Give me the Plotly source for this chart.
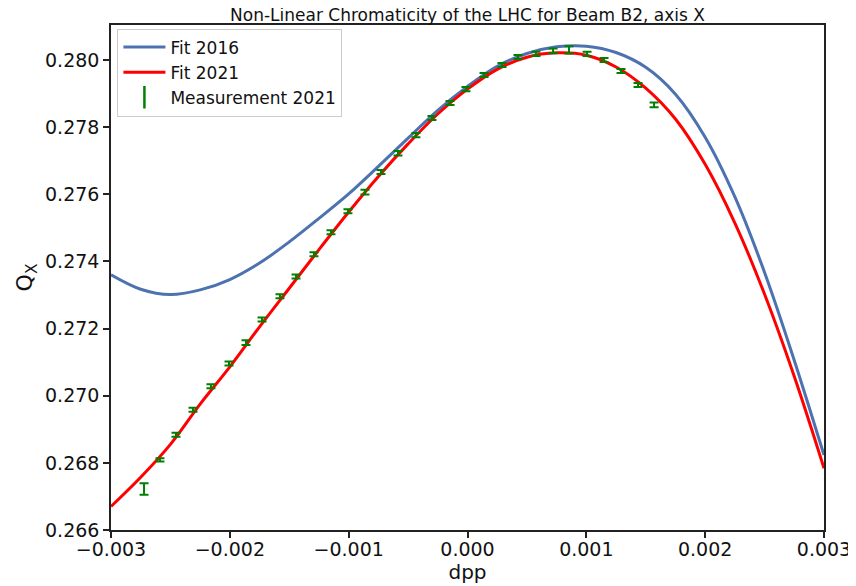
import plotly.graph_objects as go

# --- data ---
dpp_grid = [-0.003, -0.00275, -0.0025, -0.00225, -0.002, -0.00175, -0.0015, -0.00125,
            -0.001, -0.00075, -0.0005, -0.00025, 0.0, 0.00025, 0.0005, 0.00075,
            0.001, 0.00125, 0.0015, 0.00175, 0.002, 0.00225, 0.0025, 0.00275, 0.003]

fit_2016 = [0.27360, 0.27317, 0.27301, 0.27315, 0.27346, 0.27395, 0.27458, 0.27528,
            0.27601, 0.27683, 0.27767, 0.27850, 0.27921, 0.27981, 0.28019, 0.28039,
            0.28041, 0.28022, 0.27978, 0.27898, 0.27770, 0.27592, 0.27367, 0.27105, 0.26823]

fit_2021 = [0.26670, 0.26757, 0.26855, 0.26975, 0.27086, 0.27205, 0.27320, 0.27435,
            0.27547, 0.27653, 0.27750, 0.27839, 0.27913, 0.27972, 0.28008, 0.28021,
            0.28014, 0.27979, 0.27916, 0.27824, 0.27689, 0.27514, 0.27302, 0.27057, 0.26784]

meas_dpp = [-0.002722, -0.002588, -0.002453, -0.002310, -0.002159, -0.002007, -0.001864,
            -0.001729, -0.001578, -0.001443, -0.001292, -0.001149, -0.001006, -0.000863,
            -0.000728, -0.000585, -0.000434, -0.000299, -0.000147, -0.000013, 0.000139,
            0.000290, 0.000425, 0.000576, 0.000720, 0.000854, 0.001006, 0.001149,
            0.001292, 0.001435, 0.001570]

meas_q = [0.26722, 0.26809, 0.26884, 0.26958, 0.27028, 0.27096, 0.27158, 0.27227,
          0.27296, 0.27355, 0.27421, 0.27487, 0.27549, 0.27606, 0.27666, 0.27722,
          0.27776, 0.27827, 0.27872, 0.27913, 0.27955, 0.27985, 0.28009, 0.28018,
          0.28027, 0.28030, 0.28018, 0.28000, 0.27967, 0.27925, 0.27866]

meas_err = [0.00017, 0.00005, 0.00006, 0.00006, 0.00006, 0.00006, 0.00007, 0.00006,
            0.00006, 0.00006, 0.00006, 0.00006, 0.00006, 0.00007, 0.00006, 0.00007,
            0.00006, 0.00006, 0.00006, 0.00006, 0.00006, 0.00006, 0.00006, 0.00006,
            0.00007, 0.00011, 0.00006, 0.00006, 0.00006, 0.00006, 0.00007]

x_ticks = [-0.003, -0.002, -0.001, 0.0, 0.001, 0.002, 0.003]
y_ticks = [0.266, 0.268, 0.270, 0.272, 0.274, 0.276, 0.278, 0.280]

FONT = "DejaVu Sans"
GREEN = "#008000"

fig = go.Figure()

fig.add_trace(go.Scatter(
    x=dpp_grid, y=fit_2016, mode="lines", name="Fit 2016",
    line=dict(color="#4c72b0", width=3, shape="spline", smoothing=1.0),
))
fig.add_trace(go.Scatter(
    x=dpp_grid, y=fit_2021, mode="lines", name="Fit 2021",
    line=dict(color="#ff0000", width=3, shape="spline", smoothing=1.0),
))
fig.add_trace(go.Scatter(
    x=meas_dpp, y=meas_q, mode="markers", name="Measurement 2021",
    marker=dict(size=1, color=GREEN, opacity=0),
    error_y=dict(type="data", array=meas_err, visible=True, color=GREEN,
                 thickness=2, width=4.5),
    showlegend=False,
))
# legend-only entry for the measurements
fig.add_trace(go.Scatter(
    x=[None], y=[None], mode="markers", name="Measurement 2021",
    marker=dict(symbol="line-ns-open", size=17, color=GREEN,
                line=dict(color=GREEN, width=2.5)),
))

axis_common = dict(
    showline=True, linecolor="#222222", linewidth=1.5, mirror=True,
    ticks="outside", ticklen=6, tickwidth=1.5, tickcolor="#222222",
    showgrid=False, zeroline=False, automargin=False,
    tickfont=dict(family=FONT, size=19, color="#111111"),
    tickformat=".3f",
)

# the page body adds an 8px offset, so the figure is 8px smaller
W, H = 848, 578
fig.update_layout(
    width=W, height=H,
    margin=dict(l=103, r=32, t=17, b=56, autoexpand=False),
    paper_bgcolor="white", plot_bgcolor="white",
    font=dict(family=FONT, color="#111111"),
    title=dict(text="Non-Linear Chromaticity of the LHC for Beam B2, axis X",
               font=dict(family=FONT, size=17, color="#111111"),
               x=0.5, xref="paper", xanchor="center",
               y=1 - 7.5 / H, yref="container", yanchor="middle"),
    xaxis=dict(range=[-0.003, 0.003], tickvals=x_ticks, ticklabelstandoff=-5,
               title=dict(text="dpp", font=dict(family=FONT, size=20), standoff=2),
               **axis_common),
    yaxis=dict(range=[0.266, 0.28104], tickvals=y_ticks,
               title=dict(text="Q<sub>X</sub>", font=dict(family=FONT, size=22), standoff=6),
               **axis_common),
    legend=dict(x=0.009, y=0.993, xanchor="left", yanchor="top", itemwidth=42,
                bgcolor="rgba(255,255,255,0.85)", bordercolor="#cccccc", borderwidth=1,
                font=dict(family=FONT, size=17, color="#111111")),
    showlegend=True,
)

fig.write_html("out.html")
